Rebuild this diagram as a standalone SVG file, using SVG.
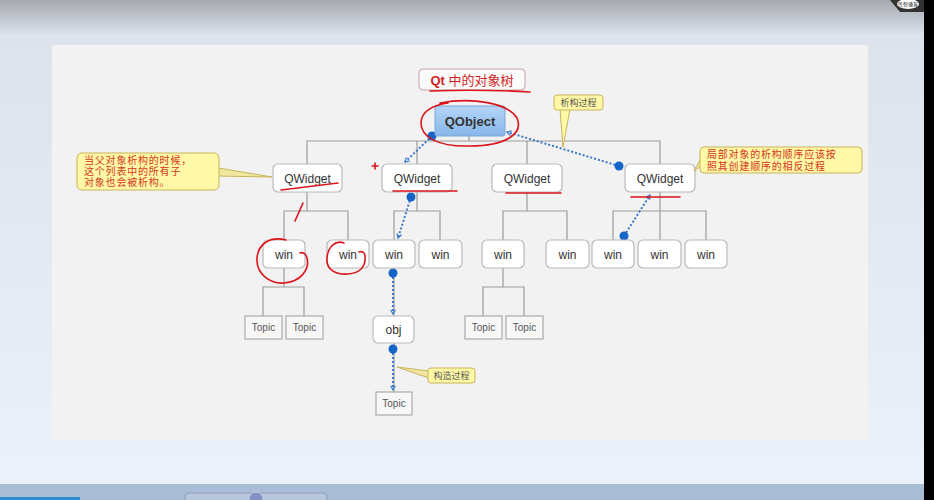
<svg xmlns="http://www.w3.org/2000/svg" width="934" height="500" viewBox="0 0 934 500">
<defs>
<linearGradient id="topg" x1="0" y1="0" x2="0" y2="1">
<stop offset="0" stop-color="#a6a9b0"/>
<stop offset="0.07" stop-color="#dde2ec"/>
<stop offset="1" stop-color="#edf1f9"/>
</linearGradient>
<linearGradient id="qog" x1="0" y1="0" x2="0" y2="1">
<stop offset="0" stop-color="#b5d5f7"/>
<stop offset="1" stop-color="#86b6ea"/>
</linearGradient>
<marker id="ah" viewBox="0 0 10 10" refX="8" refY="5" markerWidth="6" markerHeight="6" orient="auto" markerUnits="userSpaceOnUse">
<path d="M1,1 L8,5 L1,9" fill="none" stroke="#3b78c8" stroke-width="2"/>
</marker>
<style>
.node rect{fill:#ffffff;stroke:#b9b9b9;stroke-width:1.2}
.topic rect{fill:#f7f7f7;stroke:#aaaaaa;stroke-width:1.2}
.t{font-family:"Liberation Sans","Noto Sans CJK SC",sans-serif;fill:#333;text-anchor:middle}
.tn{font-size:12px}
.ts{font-size:10px;fill:#555}
.tree{fill:none;stroke:#9c9c9c;stroke-width:1.2}
.dot{fill:none;stroke:#3b78c8;stroke-width:2;stroke-dasharray:2 2}
.bd{fill:#1565c8}
.call{fill:#fff8a6;stroke:#c8b458;stroke-width:1}
.cn{font-family:"Liberation Sans","Noto Sans CJK SC",sans-serif;font-size:10px;fill:#d4361c;letter-spacing:0.8px}
.cg{font-family:"Liberation Sans","Noto Sans CJK SC",sans-serif;font-size:9px;fill:#555;text-anchor:middle}
.red{fill:none;stroke:#d9141a;stroke-width:1.6;stroke-linecap:round}
</style>
</defs>
<rect x="0" y="0" width="934" height="500" fill="url(#topg)"/>
<rect x="52" y="45" width="816" height="395" fill="#f2f2f2"/>
<rect x="0" y="484" width="934" height="16" fill="#aabdd7"/>
<rect x="0" y="497" width="80" height="3" fill="#2d8bd2"/>
<rect x="185" y="493" width="142" height="10" rx="4" fill="#b8c6dc" stroke="#8f9fb8"/>
<circle cx="256" cy="499" r="7" fill="#8490c8" stroke="#c8d0e8"/>
<rect x="924" y="0" width="10" height="500" fill="#000"/>
<path d="M890,0 H924 V12 H900 Z" fill="#333"/>
<ellipse cx="908" cy="4" rx="11" ry="5" fill="#fff"/>
<text x="908" y="6" font-family="Noto Sans CJK SC,sans-serif" font-size="5" text-anchor="middle" fill="#333">传智播客</text>

<g id="connectors">
<path class="tree" d="M469,136 V141 M307,164 V141 H660 V164 M417,141 V164 M527,141 V164"/>
<path class="tree" d="M307,192 V211 M284,240 V211 H348 V240"/>
<path class="tree" d="M417,192 V211 M394,240 V211 H440 V240"/>
<path class="tree" d="M527,192 V211 M503,240 V211 H567 V240"/>
<path class="tree" d="M660,192 V240 M613,240 V211 H706 V240"/>
<path class="tree" d="M284,268 V287 M263,316 V287 H304 V316"/>
<path class="tree" d="M503,268 V287 M483,316 V287 H524 V316"/>
<path class="tree" d="M394,268 V316 M394,343 V392"/>
<path class="dot" d="M432,136 L405,162" marker-end="url(#ah)"/>
<circle class="bd" cx="432" cy="136" r="4.5"/>
<path class="dot" d="M619,166 L507,132" marker-end="url(#ah)"/>
<circle class="bd" cx="619" cy="166" r="4.5"/>
<path class="dot" d="M411,197 L398,238" marker-end="url(#ah)"/>
<circle class="bd" cx="411" cy="197" r="4.5"/>
<path class="dot" d="M393,273 V314" marker-end="url(#ah)"/>
<circle class="bd" cx="393" cy="273" r="4.5"/>
<path class="dot" d="M393,349 V390" marker-end="url(#ah)"/>
<circle class="bd" cx="393" cy="349" r="4.5"/>
<path class="dot" d="M624,236 L650,195" marker-end="url(#ah)"/>
<circle class="bd" cx="624" cy="236" r="4.5"/>
</g>

<g id="title">
<rect x="419" y="69" width="106" height="21" rx="4" fill="#fbfbfb" stroke="#c9a0a0"/>
<text x="472" y="84.500" font-family="Liberation Sans,Noto Sans CJK SC,sans-serif" font-size="13" text-anchor="middle" fill="#d21f1f"><tspan font-weight="bold">Qt</tspan> 中的对象树</text>
</g>
<g id="qobject">
<rect x="435" y="106" width="70" height="30" rx="2" fill="url(#qog)" stroke="#7aa6d8"/>
<text class="t" x="470" y="125.500" font-size="13" font-weight="bold" fill="#2f3a46">QObject</text>
</g>
<g id="qwidget1" class="node"><rect x="273" y="164" width="69" height="28" rx="5"/><text class="t tn" x="307.500" y="182.500">QWidget</text></g>
<g id="qwidget2" class="node"><rect x="382" y="164" width="70" height="28" rx="5"/><text class="t tn" x="417" y="182.500">QWidget</text></g>
<g id="qwidget3" class="node"><rect x="492" y="164" width="70" height="28" rx="5"/><text class="t tn" x="527" y="182.500">QWidget</text></g>
<g id="qwidget4" class="node"><rect x="625" y="164" width="70" height="28" rx="5"/><text class="t tn" x="660" y="182.500">QWidget</text></g>

<g id="win1" class="node"><rect x="263" y="240" width="42" height="28" rx="5"/><text class="t tn" x="284" y="258.500">win</text></g>
<g id="win2" class="node"><rect x="327" y="240" width="42" height="28" rx="5"/><text class="t tn" x="348" y="258.500">win</text></g>
<g id="win3" class="node"><rect x="373" y="240" width="42" height="28" rx="5"/><text class="t tn" x="394" y="258.500">win</text></g>
<g id="win4" class="node"><rect x="419" y="240" width="43" height="28" rx="5"/><text class="t tn" x="440.500" y="258.500">win</text></g>
<g id="win5" class="node"><rect x="482" y="240" width="42" height="28" rx="5"/><text class="t tn" x="503" y="258.500">win</text></g>
<g id="win6" class="node"><rect x="546" y="240" width="43" height="28" rx="5"/><text class="t tn" x="567.500" y="258.500">win</text></g>
<g id="win7" class="node"><rect x="592" y="240" width="42" height="28" rx="5"/><text class="t tn" x="613" y="258.500">win</text></g>
<g id="win8" class="node"><rect x="638" y="240" width="43" height="28" rx="5"/><text class="t tn" x="659.500" y="258.500">win</text></g>
<g id="win9" class="node"><rect x="685" y="240" width="42" height="28" rx="5"/><text class="t tn" x="706" y="258.500">win</text></g>

<g id="obj" class="node"><rect x="373" y="316" width="41" height="27" rx="5"/><text class="t tn" x="393.500" y="334">obj</text></g>

<g id="topic1" class="topic"><rect x="245" y="316" width="37" height="23"/><text class="t ts" x="263.500" y="331">Topic</text></g>
<g id="topic2" class="topic"><rect x="286" y="316" width="37" height="23"/><text class="t ts" x="304.500" y="331">Topic</text></g>
<g id="topic3" class="topic"><rect x="465" y="316" width="37" height="23"/><text class="t ts" x="483.500" y="331">Topic</text></g>
<g id="topic4" class="topic"><rect x="506" y="316" width="37" height="23"/><text class="t ts" x="524.500" y="331">Topic</text></g>
<g id="topic5" class="topic"><rect x="376" y="392" width="36" height="23"/><text class="t ts" x="394" y="407">Topic</text></g>

<g id="callout-destruct">
<path d="M560,109 L563,147 L570,109 Z" fill="#fff8a6" stroke="#c8b458"/>
<rect class="call" x="554" y="95" width="49" height="15" rx="3"/>
<text class="cg" x="578.500" y="106">析构过程</text>
</g>
<g id="callout-left">
<path d="M218,168 L272,177 L218,176 Z" fill="#efe7a0" stroke="#c8b458"/>
<rect class="call" x="77" y="153" width="142" height="37" rx="5"/>
<text class="cn" x="84" y="164">当父对象析构的时候，</text>
<text class="cn" x="84" y="175">这个列表中的所有子</text>
<text class="cn" x="84" y="186">对象也会被析构。</text>
</g>
<g id="callout-right">
<path d="M701,158 L694,171 L701,166 Z" fill="#efe7a0" stroke="#c8b458"/>
<rect class="call" x="700" y="147" width="162" height="26" rx="4"/>
<text class="cn" x="707" y="158">局部对象的析构顺序应该按</text>
<text class="cn" x="707" y="170">照其创建顺序的相反过程</text>
</g>
<g id="callout-construct">
<path d="M429,371 L397,367 L429,378 Z" fill="#efe7a0" stroke="#c8b458"/>
<rect class="call" x="428" y="368" width="47" height="15" rx="3"/>
<text class="cg" x="451.500" y="379">构造过程</text>
</g>

<g id="annotations">
<path class="red" d="M430,91 Q480,89 530,92"/>
<path class="red" d="M440,103 C472,97 508,103 517,118 C524,134 505,146 470,146 C438,147 421,137 421,123 C421,112 432,105 448,103"/>
<path class="red" d="M281,190 L338,183"/>
<path class="red" d="M393,191 H457"/>
<path class="red" d="M506,193 H561"/>
<path class="red" d="M631,197 H680"/>
<path class="red" d="M372,166 H378 M375,163 V169"/>
<path class="red" d="M303,203 L295,221"/>
<path class="red" d="M286,240 C270,236 258,244 257,258 C256,274 270,284 284,283 C300,282 310,270 307,258 C306,253 302,252 300,253"/>
<path class="red" d="M344,243 C336,240 328,246 327,258 C326,270 336,275 348,274 C360,273 366,267 365,256 C365,252 362,251 359,252"/>
</g>
</svg>
